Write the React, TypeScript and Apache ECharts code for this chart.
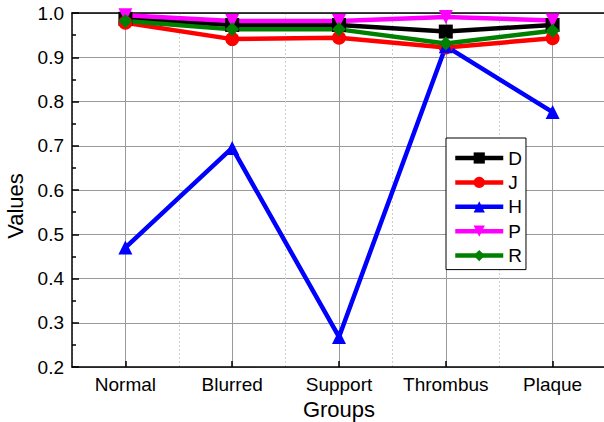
import React, { useEffect, useRef } from "react";
import * as echarts from "echarts";

const groups = ["Normal", "Blurred", "Support", "Thrombus", "Plaque"];
const seriesD = [0.987, 0.973, 0.973, 0.958, 0.973];
const seriesJ = [0.978, 0.941, 0.944, 0.922, 0.943];
const seriesH = [0.47, 0.695, 0.268, 0.925, 0.776];
const seriesP = [0.995, 0.982, 0.982, 0.991, 0.983];
const seriesR = [0.982, 0.963, 0.963, 0.931, 0.96];

const FONT = "Liberation Sans, Arial, sans-serif";

export default function App() {
  const ref = useRef<HTMLDivElement>(null);

  useEffect(() => {
    if (!ref.current) return;
    const chart = echarts.init(ref.current, undefined, { renderer: "svg" });

    const mk = (name: string, data: number[], color: string, symbol: string, rotate = 0) => ({
      name,
      type: "line",
      data,
      xAxisIndex: 0,
      symbol,
      symbolSize: 14,
      symbolRotate: rotate,
      lineStyle: { color, width: 4.5 },
      itemStyle: { color },
    });

    chart.setOption({
      animation: false,
      backgroundColor: "#fff",
      textStyle: { fontFamily: FONT },
      grid: { left: 72, top: 13, right: -2, bottom: 55, show: false, outerBoundsMode: "none", containLabel: false },
      legend: {
        orient: "vertical",
        left: 446,
        top: 138,
        backgroundColor: "#fff",
        borderColor: "#000",
        borderWidth: 1,
        borderRadius: 0,
        padding: [10, 4, 4, 7],
        itemWidth: 48,
        itemHeight: 14,
        itemGap: 4.4,
        lineStyle: { width: 4.5 },
        textStyle: { fontSize: 19, color: "#000", fontFamily: FONT, lineHeight: 20, padding: [0, 0, 0, 0] },
        data: ["D", "J", "H", "P", "R"],
      },
      xAxis: [
        {
          type: "category",
          data: groups,
          position: "bottom",
          boundaryGap: true,
          axisLine: { lineStyle: { color: "#000", width: 1.5 } },
          axisTick: { show: true, inside: true, alignWithLabel: true, length: 6, lineStyle: { color: "#000", width: 1.5 } },
          axisLabel: { fontSize: 19, color: "#000", margin: 8, fontFamily: FONT, interval: 0, hideOverlap: false },
          splitLine: { show: true, alignWithLabel: true, interval: 0, lineStyle: { color: "#9a9a9a", width: 1 } },
          name: "Groups",
          nameLocation: "middle",
          nameGap: 29,
          nameTextStyle: { fontSize: 22, lineHeight: 22, color: "#000", fontFamily: FONT },
        },
        {
          type: "category",
          data: groups,
          position: "top",
          boundaryGap: true,
          axisLine: { lineStyle: { color: "#000", width: 1.5 } },
          axisTick: { show: false },
          axisLabel: { show: false },
          splitLine: { show: true, interval: 0, lineStyle: { color: "#d0d0d0", width: 1, type: [2, 2] } },
        },
      ],
      yAxis: {
        type: "value",
        min: 0.2,
        max: 1.0,
        interval: 0.1,
        axisLine: { show: true, lineStyle: { color: "#000", width: 1.5 } },
        axisTick: { show: true, inside: true, length: 7, lineStyle: { color: "#000", width: 1.5 } },
        minorTick: { show: true, splitNumber: 2, length: 4, lineStyle: { color: "#000", width: 1.5 } },
        axisLabel: {
          fontSize: 19,
          color: "#000",
          margin: 8,
          fontFamily: FONT,
          formatter: (v: number) => v.toFixed(1),
        },
        splitLine: { show: true, lineStyle: { color: "#9a9a9a", width: 1 } },
        name: "Values",
        nameLocation: "middle",
        nameRotate: 90,
        nameGap: 30,
        nameTextStyle: { fontSize: 22, lineHeight: 22, color: "#000", fontFamily: FONT, padding: [0, 32, 0, 0] },
      },
      series: [
        mk("D", seriesD, "#000000", "rect"),
        mk("J", seriesJ, "#ff0000", "circle"),
        mk("H", seriesH, "#0000ff", "triangle"),
        mk("P", seriesP, "#ff00ff", "triangle", 180),
        mk("R", seriesR, "#008000", "diamond"),
      ],
    });

    return () => chart.dispose();
  }, []);

  return (
    <div
      ref={ref}
      style={{ position: "fixed", left: 0, top: 0, width: 604, height: 422 }}
    />
  );
}
